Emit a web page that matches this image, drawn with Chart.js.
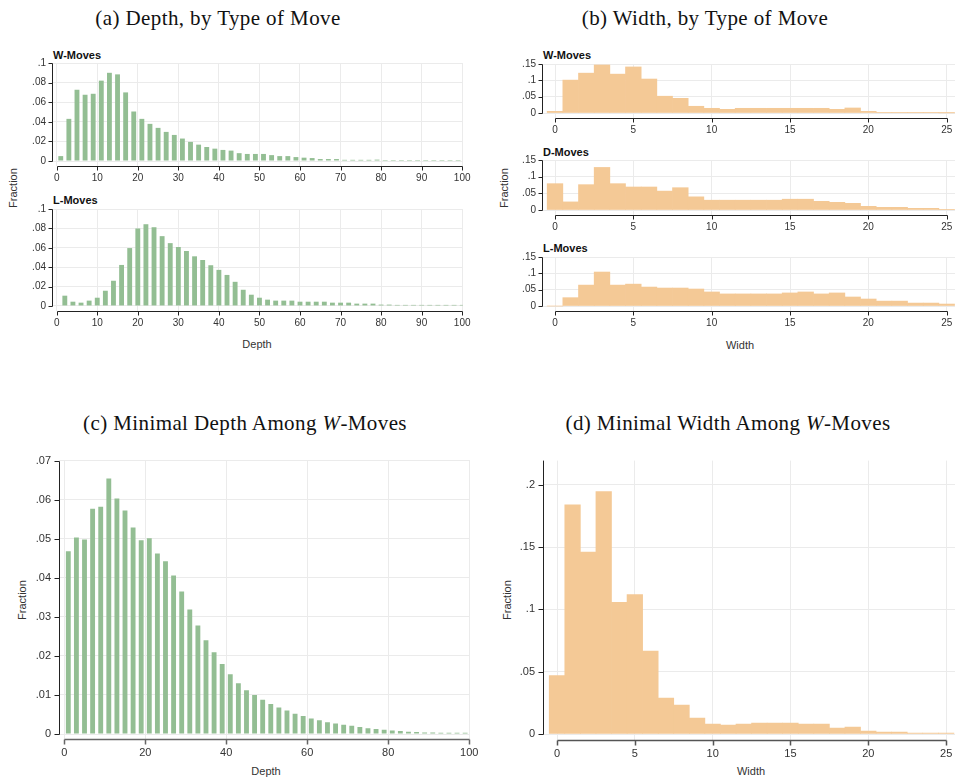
<!DOCTYPE html>
<html>
<head>
<meta charset="utf-8">
<script src="https://cdn.jsdelivr.net/npm/chart.js@4.4.0/dist/chart.umd.min.js"></script>
<style>
  html, body { margin: 0; padding: 0; background: #fff; overflow: hidden; }
  body { width: 956px; height: 778px; position: relative; font-family: "Liberation Sans", Arial, sans-serif; color: #333; }
  canvas { position: absolute; }
  .ttl { position: absolute; font-family: "Liberation Serif", "Times New Roman", serif; font-size: 21px; letter-spacing: 0.4px; color: #111; white-space: nowrap; transform: translate(-50%, -50%); }
  .sub { position: absolute; font-weight: bold; font-size: 11px; color: #111; line-height: 12px; white-space: nowrap; transform: translateY(-50%); }
  .lab { position: absolute; font-size: 11px; color: #333; white-space: nowrap; transform: translate(-50%, -50%); }
  .ylab { position: absolute; font-size: 11px; color: #333; white-space: nowrap; transform: translate(-50%, -50%) rotate(-90deg); }
</style>
</head>
<body>
<div class="ttl" style="left:218px;top:18px">(a) Depth, by Type of Move</div>
<div class="ttl" style="left:705px;top:18px">(b) Width, by Type of Move</div>
<div class="ttl" style="left:245px;top:423px">(c) Minimal Depth Among <i>W</i>-Moves</div>
<div class="ttl" style="left:728px;top:423px">(d) Minimal Width Among <i>W</i>-Moves</div>

<div class="sub" style="left:53px;top:55px">W-Moves</div>
<div class="sub" style="left:53px;top:200px">L-Moves</div>
<div class="sub" style="left:543px;top:55px">W-Moves</div>
<div class="sub" style="left:543px;top:152px">D-Moves</div>
<div class="sub" style="left:543px;top:248px">L-Moves</div>

<div class="ylab" style="left:13px;top:188px">Fraction</div>
<div class="ylab" style="left:504px;top:188px">Fraction</div>
<div class="ylab" style="left:22px;top:600px">Fraction</div>
<div class="ylab" style="left:507px;top:600px">Fraction</div>

<div class="lab" style="left:257px;top:344px">Depth</div>
<div class="lab" style="left:740px;top:345px">Width</div>
<div class="lab" style="left:266px;top:771px">Depth</div>
<div class="lab" style="left:751px;top:771px">Width</div>

<script>
// depth categories: W-moves sit on odd depths, L-moves on even depths
const depthOdd = [1, 3, 5, 7, 9, 11, 13, 15, 17, 19, 21, 23, 25, 27, 29, 31, 33, 35, 37, 39,
  41, 43, 45, 47, 49, 51, 53, 55, 57, 59, 61, 63, 65, 67, 69, 71, 73, 75, 77, 79,
  81, 83, 85, 87, 89, 91, 93, 95, 97, 99];
const depthEven = [2, 4, 6, 8, 10, 12, 14, 16, 18, 20, 22, 24, 26, 28, 30, 32, 34, 36, 38, 40,
  42, 44, 46, 48, 50, 52, 54, 56, 58, 60, 62, 64, 66, 68, 70, 72, 74, 76, 78, 80,
  82, 84, 86, 88, 90, 92, 94, 96, 98, 100];
const widthBins = [0, 1, 2, 3, 4, 5, 6, 7, 8, 9, 10, 11, 12, 13, 14, 15, 16, 17, 18, 19, 20, 21, 22, 23, 24, 25];

// (a) depth by type of move
const depthWMoves = [0.005, 0.043, 0.0727, 0.0676, 0.0686, 0.082, 0.090, 0.0884, 0.070, 0.0505,
  0.043, 0.0379, 0.0338, 0.0297, 0.0266, 0.0229, 0.0195, 0.0167, 0.0143, 0.0126,
  0.0113, 0.0106, 0.008, 0.0072, 0.0072, 0.0072, 0.006, 0.005, 0.005, 0.004,
  0.0034, 0.003, 0.002, 0.002, 0.002, 0.0012, 0.0012, 0.0012, 0.0012, 0.0014,
  0.001, 0.001, 0.001, 0.001, 0.001, 0.001, 0.001, 0.001, 0.001, 0.001];
const depthLMoves = [0.0106, 0.0044, 0.0034, 0.0055, 0.0085, 0.0157, 0.026, 0.0423, 0.0597, 0.0799,
  0.0843, 0.0812, 0.072, 0.0648, 0.0608, 0.0567, 0.0512, 0.0474, 0.042, 0.0372,
  0.032, 0.0249, 0.0167, 0.0116, 0.0085, 0.0065, 0.0055, 0.0055, 0.0055, 0.0044,
  0.0044, 0.0044, 0.0044, 0.0034, 0.0034, 0.0034, 0.0024, 0.0024, 0.0024, 0.0014,
  0.0014, 0.0011, 0.0011, 0.0011, 0.0011, 0.0011, 0.0011, 0.0011, 0.0011, 0.0011];

// (b) width by type of move
const widthWMoves = [0.005, 0.1007, 0.122, 0.147, 0.119, 0.141, 0.104, 0.0514, 0.045, 0.0206,
  0.0144, 0.0113, 0.0144, 0.0144, 0.0144, 0.0144, 0.0144, 0.0144, 0.0113, 0.0154,
  0.005, 0.002, 0.002, 0.001, 0.001, 0.0005];
const widthDMoves = [0.079, 0.0243, 0.076, 0.1277, 0.079, 0.069, 0.069, 0.0567, 0.0669, 0.0395,
  0.0294, 0.0294, 0.0294, 0.0294, 0.0294, 0.0324, 0.0324, 0.026, 0.023, 0.020,
  0.011, 0.008, 0.008, 0.005, 0.005, 0.002];
const widthLMoves = [0, 0.0255, 0.064, 0.104, 0.064, 0.067, 0.058, 0.055, 0.055, 0.052,
  0.043, 0.037, 0.037, 0.037, 0.037, 0.040, 0.043, 0.037, 0.040, 0.0276,
  0.0214, 0.015, 0.015, 0.009, 0.009, 0.006];

// (c) minimal depth among W-moves
const minDepthW = [0.0468, 0.0503, 0.0498, 0.0577, 0.0582, 0.0654, 0.0603, 0.0572, 0.0529, 0.0496,
  0.0501, 0.0462, 0.0442, 0.0406, 0.0365, 0.0319, 0.0278, 0.024, 0.0209, 0.0179,
  0.0153, 0.013, 0.0112, 0.010, 0.0088, 0.0077, 0.0068, 0.006, 0.0052, 0.0046,
  0.004, 0.0035, 0.003, 0.0027, 0.0024, 0.0021, 0.0018, 0.0015, 0.0013, 0.0011,
  0.0009, 0.0008, 0.0006, 0.0005, 0.0004, 0.0004, 0.0003, 0.0003, 0.0003, 0.0003];

// (d) minimal width among W-moves
const minWidthW = [0.047, 0.184, 0.146, 0.1947, 0.1057, 0.112, 0.0665, 0.0288, 0.0232, 0.0128,
  0.008, 0.0072, 0.008, 0.0088, 0.0088, 0.0088, 0.008, 0.008, 0.0048, 0.0056,
  0.0024, 0.0016, 0.0016, 0.0008, 0.0008, 0.0008];

// tick labels
const depthTicks = [0, 10, 20, 30, 40, 50, 60, 70, 80, 90, 100];
const depthTicksC = [0, 20, 40, 60, 80, 100];
const widthTicks = [0, 5, 10, 15, 20, 25];
const fracTicksA = [0, 0.02, 0.04, 0.06, 0.08, 0.1];
const fracTicksB = [0, 0.05, 0.1, 0.15];
const fracTicksC = [0, 0.01, 0.02, 0.03, 0.04, 0.05, 0.06, 0.07];
const fracTicksD = [0, 0.05, 0.1, 0.15, 0.2];

const GREEN = "#93be93";
const ORANGE = "#f4c996";
const GRID = "#ebebeb";

Chart.defaults.font.family = '"Liberation Sans", Arial, sans-serif';

// Stata-like axes: lines only span the tick range, short outward tick marks
const stataAxes = {
    id: "stataAxes",
    afterDraw(chart, args, o) {
        const { ctx, chartArea: a, scales: { x, y } } = chart;
        const xs = x.ticks.map(t => Math.round(x.getPixelForValue(t.value)) + 0.5);
        const ys = y.ticks.map(t => Math.round(y.getPixelForValue(t.value)) + 0.5);
        const left = Math.round(a.left) + 0.5;
        const bottom = Math.round(a.bottom) + 0.5;
        ctx.save();
        ctx.strokeStyle = o.yColor;
        ctx.lineWidth = 1;
        ctx.beginPath();
        ctx.moveTo(left, ys[0]);
        ctx.lineTo(left, o.yToTop ? a.top : ys[ys.length - 1]);
        ys.forEach(p => { ctx.moveTo(left - o.tick, p); ctx.lineTo(left, p); });
        ctx.stroke();
        ctx.strokeStyle = o.xColor;
        ctx.lineWidth = o.xWidth;
        ctx.beginPath();
        ctx.moveTo(xs[0], bottom);
        ctx.lineTo(xs[xs.length - 1], bottom);
        xs.forEach(p => { ctx.moveTo(p, bottom); ctx.lineTo(p, bottom + o.tick); });
        ctx.stroke();
        ctx.restore();
    }
};

function fmtFrac(v) {
    if (v === 0) return "0";
    return String(v).replace(/^0\./, ".");
}

function drawPanel(p) {
    const padT = 14, padR = 24, wy = 40, hx = 26;
    const cv = document.createElement("canvas");
    cv.width = (p.R - p.L) + wy + padR;
    cv.height = (p.B - p.T) + padT + hx;
    cv.style.left = (p.L - wy) + "px";
    cv.style.top = (p.T - padT) + "px";
    document.body.appendChild(cv);

    const tickFont = { size: p.fontSize };
    new Chart(cv, {
        type: "bar",
        data: {
            datasets: [{
                data: p.xs.map((v, i) => ({ x: v, y: p.ys[i] })),
                backgroundColor: p.color,
                borderWidth: 0,
                barPercentage: p.barPct,
                categoryPercentage: 1
            }]
        },
        options: {
            responsive: false,
            animation: false,
            devicePixelRatio: 1,
            layout: { padding: { top: padT, right: padR, left: 0, bottom: 0 } },
            plugins: {
                legend: { display: false },
                tooltip: { enabled: false },
                stataAxes: { yColor: "#222", xColor: p.xAxisColor, xWidth: p.xAxisWidth, tick: p.tick, yToTop: !!p.yToTop }
            },
            scales: {
                x: {
                    type: "linear",
                    bounds: "data",
                    offset: false,
                    min: p.xMin,
                    max: p.xMax,
                    afterBuildTicks: s => { s.ticks = p.xTicks.map(v => ({ value: v })); },
                    afterFit: s => { s.height = hx; },
                    grid: { color: GRID, lineWidth: 1, drawTicks: false, offset: false },
                    border: { display: false },
                    ticks: { padding: p.xPad, font: tickFont, color: "#333", maxRotation: 0, autoSkip: false, callback: v => String(v) }
                },
                y: {
                    type: "linear",
                    bounds: "data",
                    min: p.yMin,
                    max: p.yMax,
                    afterBuildTicks: s => { s.ticks = p.yTicks.map(v => ({ value: v })); },
                    afterFit: s => { s.width = wy; },
                    grid: { color: GRID, lineWidth: 1, drawTicks: false },
                    border: { display: false },
                    ticks: { padding: p.yPad, font: tickFont, color: "#333", autoSkip: false, callback: fmtFrac }
                }
            }
        },
        plugins: [stataAxes]
    });
}

const depthA = { L: 52, R: 463, xMin: -1.16, xMax: 100.2, xTicks: depthTicks, yTicks: fracTicksA, yMax: 0.1,
    color: GREEN, barPct: 0.6, fontSize: 10, xPad: 6, yPad: 6, tick: 4, xAxisColor: "#222", xAxisWidth: 1 };
const widthB = { L: 542, R: 955, xMin: -0.83, xMax: 25.53, xTicks: widthTicks, yTicks: fracTicksB, yMax: 0.15,
    color: ORANGE, barPct: 1, fontSize: 10, xPad: 6, yPad: 6, tick: 4, xAxisColor: "#222", xAxisWidth: 1 };

drawPanel(Object.assign({}, depthA, { T: 63, B: 166, yMin: -0.0051, xs: depthOdd, ys: depthWMoves }));
drawPanel(Object.assign({}, depthA, { T: 209, B: 311, yMin: -0.0052, xs: depthEven, ys: depthLMoves }));

drawPanel(Object.assign({}, widthB, { T: 64, B: 118, yMin: -0.0153, xs: widthBins, ys: widthWMoves }));
drawPanel(Object.assign({}, widthB, { T: 160, B: 215, yMin: -0.015, xs: widthBins, ys: widthDMoves }));
drawPanel(Object.assign({}, widthB, { T: 257, B: 311, yMin: -0.0153, xs: widthBins, ys: widthLMoves }));

drawPanel({ L: 59, R: 470, T: 460, B: 739, xMin: -1.3, xMax: 100.2, yMin: -0.00128, yMax: 0.07,
    xTicks: depthTicksC, yTicks: fracTicksC, xs: depthOdd, ys: minDepthW,
    color: GREEN, barPct: 0.6, fontSize: 11, xPad: 7, yPad: 8, tick: 5, xAxisColor: "#666", xAxisWidth: 1.5 });

drawPanel({ L: 543, R: 955, T: 460, B: 740, xMin: -0.9, xMax: 25.57, yMin: -0.0048, yMax: 0.2195,
    xTicks: widthTicks, yTicks: fracTicksD, xs: widthBins, ys: minWidthW, yToTop: true,
    color: ORANGE, barPct: 1, fontSize: 11, xPad: 7, yPad: 8, tick: 5, xAxisColor: "#555", xAxisWidth: 1.5 });
</script>
</body>
</html>
